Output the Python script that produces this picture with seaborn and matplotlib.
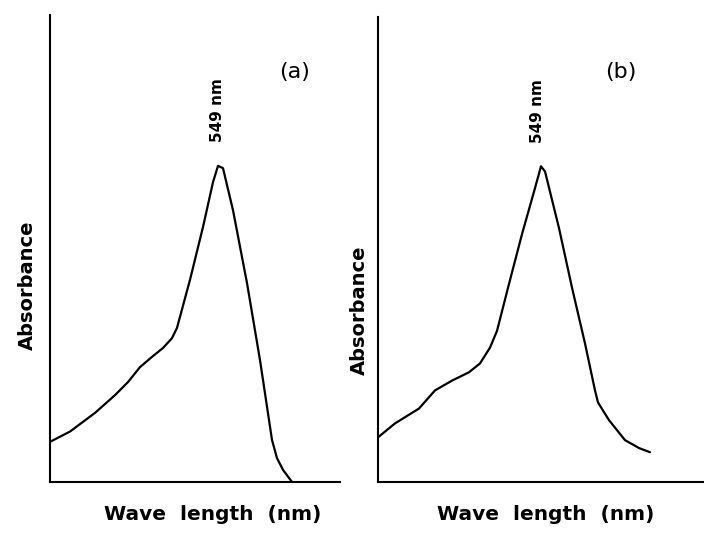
import matplotlib
matplotlib.use("Agg")
import matplotlib.pyplot as plt
import seaborn as sns
import pandas as pd

# Panel (a): wavelength (nm) vs absorbance (arbitrary units)
wl_a = [381, 401, 426, 446, 459, 471, 483, 494, 503, 508, 521, 534, 544, 549,
        554, 564, 578, 591, 603, 608, 614, 623]
abs_a = [0.086, 0.108, 0.148, 0.186, 0.214, 0.246, 0.268, 0.287, 0.308, 0.330,
         0.433, 0.546, 0.642, 0.677, 0.672, 0.582, 0.426, 0.261, 0.090, 0.051,
         0.026, 0.0]

# Panel (b)
wl_b = [386, 403, 427, 443, 460, 477, 488, 498, 505, 517, 530, 543, 549, 553,
        567, 580, 593, 603, 606, 617, 633, 647, 658]
abs_b = [0.096, 0.126, 0.158, 0.197, 0.218, 0.236, 0.255, 0.289, 0.325, 0.426,
         0.533, 0.632, 0.679, 0.668, 0.546, 0.418, 0.298, 0.197, 0.171, 0.133,
         0.090, 0.073, 0.064]

panel_labels = ["(a)", "(b)"]
peak_label = "549 nm"
peak_nm = 549
xlabel = "Wave  length  (nm)"
ylabel = "Absorbance"

sns.set_style("white")
plt.rcParams['font.family'] = ['DejaVu Sans']
plt.rcParams['text.color'] = 'black'
plt.rcParams['axes.labelcolor'] = 'black'

W, H = 704, 549
fig = plt.figure(figsize=(7.04, 5.49), dpi=100)
ax_a = fig.add_axes([50 / W, 1 - 482 / H, 290 / W, 467 / H])
ax_b = fig.add_axes([378 / W, 1 - 482 / H, 326 / W, 465 / H])

panels = [
    (ax_a, wl_a, abs_a, (381, 671), 0.677, 0),
    (ax_b, wl_b, abs_b, (386, 712), 0.679, -4),
]

for ax, wl, ab, xl, pk, dx in panels:
    df = pd.DataFrame({"Wavelength": wl, "Absorbance": ab})
    sns.lineplot(data=df, x="Wavelength", y="Absorbance", ax=ax,
                 color="black", linewidth=1.6, sort=False, estimator=None)
    ax.set_xlim(*xl)
    ax.set_ylim(0, 1.0)
    ax.set_xticks([])
    ax.set_yticks([])
    ax.set_xlabel("")
    ax.set_ylabel("")
    for s in ["top", "right"]:
        ax.spines[s].set_visible(False)
    for s in ["left", "bottom"]:
        ax.spines[s].set_color("black")
        ax.spines[s].set_linewidth(1.5)
    ax.text(peak_nm + dx, pk + 0.05, peak_label, rotation=90, ha="center",
            va="bottom", fontsize=11, fontweight="bold")

# axis titles and panel labels in figure pixel positions
for xc, yc in [(213, 515), (546, 515)]:
    fig.text(xc / W, 1 - yc / H, xlabel, ha="center", va="center",
             fontsize=14.5, fontweight="bold")
for xc, yc in [(27, 285), (359, 310)]:
    fig.text(xc / W, 1 - yc / H, ylabel, ha="center", va="center",
             rotation=90, fontsize=14, fontweight="bold")
for lab, xc in [(panel_labels[0], 295), (panel_labels[1], 621)]:
    fig.text(xc / W, 1 - 72 / H, lab, ha="center", va="center", fontsize=16)

fig.savefig("out.png", dpi=100)
